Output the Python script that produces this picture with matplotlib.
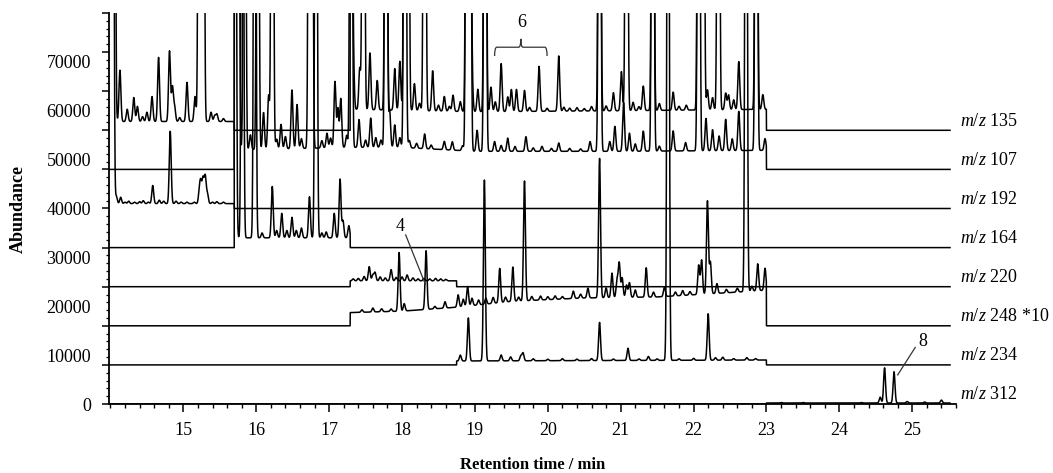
import numpy as np
import matplotlib
matplotlib.use('Agg')
import matplotlib.pyplot as plt
from matplotlib.path import Path
from matplotlib.patches import PathPatch

plt.rcParams['font.family'] = ['Liberation Serif', 'DejaVu Serif']
plt.rcParams['mathtext.fontset'] = 'custom'
plt.rcParams['mathtext.rm'] = 'Liberation Serif'
plt.rcParams['mathtext.it'] = 'Liberation Serif:italic'

OFF = 200000  # peaks that run off the top of the plot

# trace names and vertical offsets (abundance)
mz_labels = ['135', '107', '192', '164', '220', '248 *10', '234', '312']
offsets = [56000, 48000, 40000, 32000, 24000, 16000, 8000, 0]

# acquisition windows (min) for each trace, flat at its offset elsewhere
win_135 = [(13.98, 15.70), (17.29, 23.00)]
win_107 = [(15.70, 23.00)]
win_192 = [(13.98, 15.70)]
win_164 = [(15.70, 17.29)]
win_220 = [(17.29, 18.75)]
win_248 = [(17.29, 23.00)]
win_234 = [(18.75, 23.00)]
win_312 = [(23.00, 25.52)]

# baseline
base_t_135 = [13.98, 15.70, 17.29, 19.0, 21.0, 23.0]
base_v_135 = [57800, 57800, 60300, 59800, 60000, 60300]
base_t_107 = [15.70, 17.29, 18.0, 19.0, 21.0, 23.0]
base_v_107 = [52000, 52500, 52500, 51700, 51700, 51900]
base_t_192 = [13.98, 15.70]
base_v_192 = [41000, 41000]
base_t_164 = [15.70, 17.29]
base_v_164 = [34000, 34000]
base_t_220 = [17.29, 18.75]
base_v_220 = [25200, 25200]
base_t_248 = [17.29, 18.0, 18.75, 19.5, 20.5, 21.5, 22.5, 23.0]
base_v_248 = [18700, 19000, 19800, 21000, 21700, 21900, 22800, 23300]
base_t_234 = [18.75, 23.0]
base_v_234 = [8800, 9000]
base_t_312 = [23.0, 25.52]
base_v_312 = [200, 200]

# peaks: retention time and height above baseline
pk_t_135 = [13.99, 14.02, 14.05, 14.13, 14.23, 14.32, 14.37, 14.44, 14.50, 14.57,
            14.66, 14.81, 14.85, 14.88, 14.95, 15.05, 15.16, 15.22, 15.27, 15.38,
            15.43, 15.46, 15.55,
            17.30, 17.33, 17.42, 17.47, 17.56, 17.66, 17.78, 17.90, 17.97, 18.04,
            18.08, 18.17, 18.24, 18.31, 18.42, 18.50, 18.58, 18.65, 18.70, 18.80,
            18.89, 18.93, 18.96, 19.04, 19.14, 19.22, 19.28, 19.36, 19.45, 19.50,
            19.57, 19.68, 19.75, 19.88, 19.99, 20.15, 20.22, 20.30, 20.40, 20.50,
            20.60, 20.71, 20.80, 20.90, 21.01, 21.08, 21.17, 21.25, 21.31, 21.44,
            21.53, 21.72, 21.80, 21.90, 22.07, 22.13, 22.19, 22.26, 22.34, 22.44,
            22.48, 22.55, 22.62, 22.86, 22.95]
pk_h_135 = [OFF, OFF, OFF, 10500, 2500, 4900, 3100, 1000, 1900, 5100,
            13100, 14400, 7000, 3000, 800, 8000, 5100, OFF, OFF, 1900,
            1200, 1500, 600,
            OFF, 11000, 8500, OFF, 11600, 6000, OFF, 8500, 10000, OFF,
            OFF, 5500, 1500, OFF, 8200, 1200, 3000, 1000, 3300, 2000,
            OFF, OFF, 6500, 4600, OFF, 5000, 2000, 9800, 3000, 4500,
            4500, 4300, 800, 9200, 600, 11300, 800, 600, 700, 500,
            900, OFF, 1000, 3700, 8000, OFF, 1700, 800, 5000, OFF,
            1400, 3700, 800, 1000, OFF, OFF, 4100, 2500, OFF, 3400,
            3000, 2000, 9800, OFF, 3000]

pk_t_107 = [15.72, 15.75, 15.84, 15.92, 16.02, 16.10, 16.17, 16.22, 16.28, 16.34,
            16.40, 16.49, 16.56, 16.62, 16.73, 16.76, 16.90, 16.97, 17.02, 17.08,
            17.12, 17.16, 17.24,
            17.30, 17.41, 17.50, 17.57, 17.64, 17.71, 17.78, 17.83, 17.90, 17.97,
            18.04, 18.10, 18.20, 18.31, 18.40, 18.58, 18.69, 18.83, 18.89, 18.93,
            19.03, 19.14, 19.27, 19.36, 19.45, 19.55, 19.70, 19.80, 19.92, 20.05,
            20.15, 20.30, 20.45, 20.58, 20.71, 20.85, 20.92, 21.04, 21.12, 21.20,
            21.31, 21.44, 21.53, 21.72, 21.89, 22.07, 22.17, 22.26, 22.35, 22.44,
            22.53, 22.62, 22.86, 22.98]
pk_h_107 = [OFF, OFF, OFF, 3000, OFF, 7500, 11000, OFF, 2000, 5000,
            2500, 12000, 9000, 2000, OFF, OFF, 1500, 3000, 2000, 13500,
            8000, 10000, 2500,
            OFF, 5700, 1500, 6000, 2000, 1500, OFF, 7600, 4600, 2000,
            OFF, 1500, 1000, 3000, 800, 1700, 1700, 1000, OFF, OFF,
            4300, OFF, 2000, 1200, 2700, 1000, 3000, 700, 1000, 600,
            1700, 600, 500, 2000, OFF, 2000, 5100, 10000, 3700, 1500,
            4100, OFF, 1000, 4100, 1700, OFF, 6600, 4300, 3000, 6400,
            2400, 8000, OFF, 2400]

pk_t_192 = [14.00, 14.03, 14.08, 14.14, 14.20, 14.25, 14.33, 14.40, 14.45, 14.52,
            14.58, 14.67, 14.73, 14.82, 14.90, 14.97, 15.05, 15.15, 15.22, 15.24,
            15.27, 15.30, 15.33, 15.40, 15.46, 15.55]
pk_h_192 = [OFF, OFF, 1500, 1300, 300, 500, 300, 400, 600, 300,
            3700, 700, 500, 14800, 500, 300, 300, 300, 2500, 4000,
            5000, 5500, 2000, 300, 400, 300]

pk_t_164 = [15.71, 15.81, 15.98, 16.08, 16.22, 16.28, 16.35, 16.42, 16.49, 16.55,
            16.62, 16.73, 16.82, 16.90, 16.96, 17.07, 17.15, 17.19, 17.27]
pk_h_164 = [OFF, OFF, OFF, 1000, 10500, 1500, 5000, 1500, 4200, 1500,
            2000, 8400, OFF, 1000, 1200, 5000, 12000, 3500, 2500]

pk_t_220 = [17.33, 17.40, 17.48, 17.55, 17.60, 17.63, 17.70, 17.77, 17.85, 17.92,
            18.00, 18.07, 18.15, 18.22, 18.30, 18.38, 18.46, 18.53, 18.60]
pk_h_220 = [400, 500, 900, 2900, 1200, 1700, 800, 600, 2300, 700,
            800, 1200, 600, 400, 500, 400, 500, 400, 300]

pk_t_248 = [17.45, 17.60, 17.72, 17.85, 17.96, 18.03, 18.33, 18.45, 18.59, 18.77,
            18.84, 18.90, 18.96, 19.05, 19.15, 19.25, 19.34, 19.42, 19.52, 19.60,
            19.68, 19.78, 19.90, 20.00, 20.10, 20.20, 20.35, 20.45, 20.55, 20.71,
            20.80, 20.88, 20.95, 20.98, 21.02, 21.08, 21.12, 21.20, 21.35, 21.45,
            21.60, 21.75, 21.85, 21.95, 22.07, 22.11, 22.19, 22.23, 22.32, 22.45,
            22.60, 22.72, 22.80, 22.88, 22.98]
pk_h_248 = [500, 800, 600, 500, 12000, 1500, 12000, 500, 1300, 2500,
            1500, 4000, 1500, 1000, 1200, 1200, 7000, 1000, 7000, 800,
            24500, 800, 800, 600, 700, 500, 1500, 800, 2000, 28500,
            2000, 5000, 3500, 7000, 4000, 2500, 3000, 1500, 6000, 1000,
            2000, 800, 1000, 700, 6000, 7000, 19000, 6500, 2000, 700,
            800, OFF, 1000, 5500, 4500]

pk_t_234 = [18.80, 18.91, 19.13, 19.36, 19.49, 19.63, 19.66, 19.80, 20.00, 20.20,
            20.40, 20.60, 20.71, 20.90, 21.10, 21.25, 21.38, 21.50, 21.65, 21.80,
            22.00, 22.20, 22.30, 22.40, 22.55, 22.73, 22.85]
pk_h_234 = [1200, 8800, 37000, 1200, 800, 1000, 1600, 400, 300, 400,
            300, 400, 7800, 300, 2500, 300, 800, 300, OFF, 300,
            400, 9500, 500, 600, 300, 500, 300]

pk_t_312 = [23.20, 23.50, 24.30, 24.56, 24.62, 24.75, 24.93, 25.17, 25.40]
pk_h_312 = [100, 100, 100, 1200, 7200, 6400, 300, 200, 600]

windows = [win_135, win_107, win_192, win_164, win_220, win_248, win_234, win_312]
base_t = [base_t_135, base_t_107, base_t_192, base_t_164, base_t_220, base_t_248, base_t_234, base_t_312]
base_v = [base_v_135, base_v_107, base_v_192, base_v_164, base_v_220, base_v_248, base_v_234, base_v_312]
peak_t = [pk_t_135, pk_t_107, pk_t_192, pk_t_164, pk_t_220, pk_t_248, pk_t_234, pk_t_312]
peak_h = [pk_h_135, pk_h_107, pk_h_192, pk_h_164, pk_h_220, pk_h_248, pk_h_234, pk_h_312]

t = np.arange(13.98, 25.52, 0.002)
sigma = 0.013

fig = plt.figure(figsize=(10.53, 4.73), dpi=100)
ax = fig.add_axes([109 / 1053, 1 - 404 / 473, 847 / 1053, 391 / 473])

for i in range(len(mz_labels)):
    y = np.full_like(t, offsets[i], dtype=float)
    inside = np.zeros_like(t, dtype=bool)
    for a, b in windows[i]:
        inside |= (t >= a) & (t <= b)
    sig = np.interp(t, base_t[i], base_v[i])
    for pt, ph in zip(peak_t[i], peak_h[i]):
        sig = sig + ph * np.exp(-0.5 * ((t - pt) / sigma) ** 2)
    y[inside] = sig[inside]
    ax.plot(t, y, color='black', lw=1.1)
    ax.text(25.66, offsets[i] + 1900, r'$m/z$ ' + mz_labels[i], fontsize=13,
            va='center', ha='left', clip_on=False)

ax.set_xlim(13.98, 25.52)
ax.set_ylim(0, 80000)
for s in ['top', 'right']:
    ax.spines[s].set_visible(False)
ax.spines['left'].set_linewidth(1.3)
ax.spines['bottom'].set_linewidth(1.3)

ax.set_xticks(np.arange(15, 26, 1))
ax.set_xticks(np.arange(14.0, 25.6, 0.2), minor=True)
ax.tick_params(axis='x', which='major', length=6, width=1.1, labelsize=13, pad=7)
ax.tick_params(axis='x', which='minor', length=3, width=1)

# tick marks every 8000, labels every 10000
ax.set_yticks(np.arange(0, 80001, 8000))
ax.set_yticks(np.arange(0, 80001, 1600), minor=True)
ax.tick_params(axis='y', which='major', length=5, width=1.1, labelleft=False)
ax.tick_params(axis='y', which='minor', length=2.5, width=0.9)
ylab = ax.secondary_yaxis('left')
ylab.set_yticks(np.arange(0, 70001, 10000))
ylab.tick_params(length=0, labelsize=13, pad=13)
ylab.spines['left'].set_visible(False)

ax.text(-0.107, 0.5, 'Abundance', transform=ax.transAxes, rotation=90,
        fontsize=13, fontweight='bold', ha='center', va='center')
fig.text(533 / 1053, 1 - 465 / 473, 'Retention time / min', fontsize=12,
         fontweight='bold', ha='center', va='center')

# peak annotations
ax.text(17.98, 36300, '4', fontsize=13, ha='center', va='center')
ax.plot([18.05, 18.32], [34600, 24500], color='#333333', lw=0.9)
ax.text(25.15, 12800, '8', fontsize=13, ha='center', va='center')
ax.plot([25.04, 24.80], [11560, 5950], color='#333333', lw=0.9)
ax.text(19.64, 78000, '6', fontsize=13, ha='center', va='center')

x0, xc, x1, d = 19.27, 19.63, 19.99, 0.03
y_end, y_mid, y_tip = 71200, 73000, 74700
verts = [(x0, y_end), (x0, y_mid), (x0 + d, y_mid), (xc - d, y_mid),
         (xc, y_mid), (xc, y_tip), (xc, y_mid), (xc + d, y_mid),
         (x1 - d, y_mid), (x1, y_mid), (x1, y_end)]
codes = [Path.MOVETO, Path.CURVE3, Path.CURVE3, Path.LINETO,
         Path.CURVE3, Path.CURVE3, Path.CURVE3, Path.CURVE3,
         Path.LINETO, Path.CURVE3, Path.CURVE3]
ax.add_patch(PathPatch(Path(verts, codes), facecolor='none', edgecolor='#333333', lw=0.9))

fig.savefig('out.png', dpi=100)
